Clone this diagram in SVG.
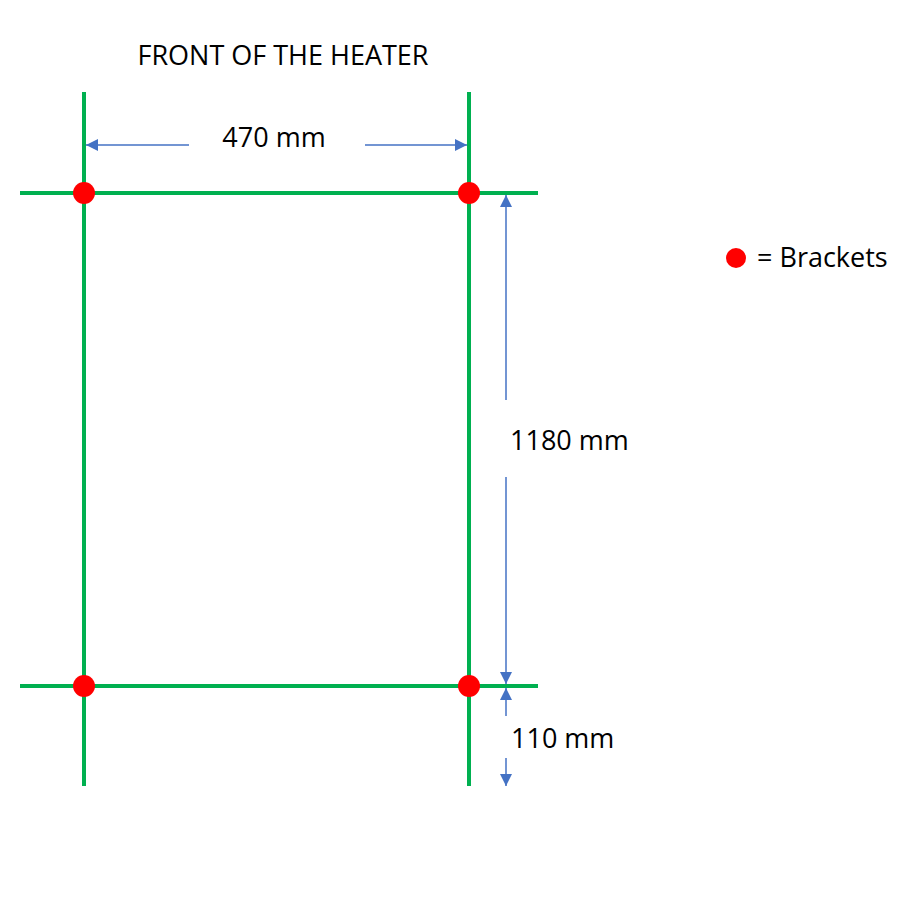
<svg xmlns="http://www.w3.org/2000/svg" width="900" height="900" viewBox="0 0 900 900">
<style>
.g{stroke:#00B050;stroke-width:4;fill:none}
.d{stroke:#4472C4;stroke-width:1.5;fill:none}
.b{fill:#FF0000}
.t{font-family:"Open Sans","Liberation Sans",sans-serif;font-size:27px;fill:#000}
</style>
<defs>
<marker id="ah" viewBox="0 0 10 10" refX="10" refY="5" markerWidth="12" markerHeight="12" markerUnits="userSpaceOnUse" orient="auto">
<path d="M0,0 L10,5 L0,10 z" fill="#4472C4"/>
</marker>
</defs>
<rect width="900" height="900" fill="#fff"/>
<g id="frame">
<line class="g" x1="84" y1="92" x2="84" y2="786"/>
<line class="g" x1="469" y1="92" x2="469" y2="786"/>
<line class="g" x1="20" y1="193" x2="538" y2="193"/>
<line class="g" x1="20" y1="686" x2="538" y2="686"/>
</g>
<g id="brackets">
<circle class="b" cx="84" cy="193" r="11"/>
<circle class="b" cx="469" cy="193" r="11"/>
<circle class="b" cx="84" cy="686" r="11"/>
<circle class="b" cx="469" cy="686" r="11"/>
</g>
<g id="connectors">
<line class="d" x1="189" y1="145" x2="86" y2="145" marker-end="url(#ah)"/>
<line class="d" x1="365" y1="145" x2="467" y2="145" marker-end="url(#ah)"/>
<line class="d" x1="506" y1="400" x2="506" y2="195" marker-end="url(#ah)"/>
<line class="d" x1="506" y1="477" x2="506" y2="684" marker-end="url(#ah)"/>
<line class="d" x1="506" y1="716" x2="506" y2="688" marker-end="url(#ah)"/>
<line class="d" x1="506" y1="758" x2="506" y2="786" marker-end="url(#ah)"/>
</g>
<g id="title"><text class="t" x="283" y="65" text-anchor="middle">FRONT OF THE HEATER</text></g>
<g id="dim-470"><text class="t" x="274" y="147" text-anchor="middle">470 mm</text></g>
<g id="dim-1180"><text class="t" x="510" y="450">1180 mm</text></g>
<g id="dim-110"><text class="t" x="511" y="748">110 mm</text></g>
<g id="legend">
<circle class="b" cx="736" cy="258" r="10"/>
<text class="t" x="757" y="267">= Brackets</text>
</g>
</svg>
